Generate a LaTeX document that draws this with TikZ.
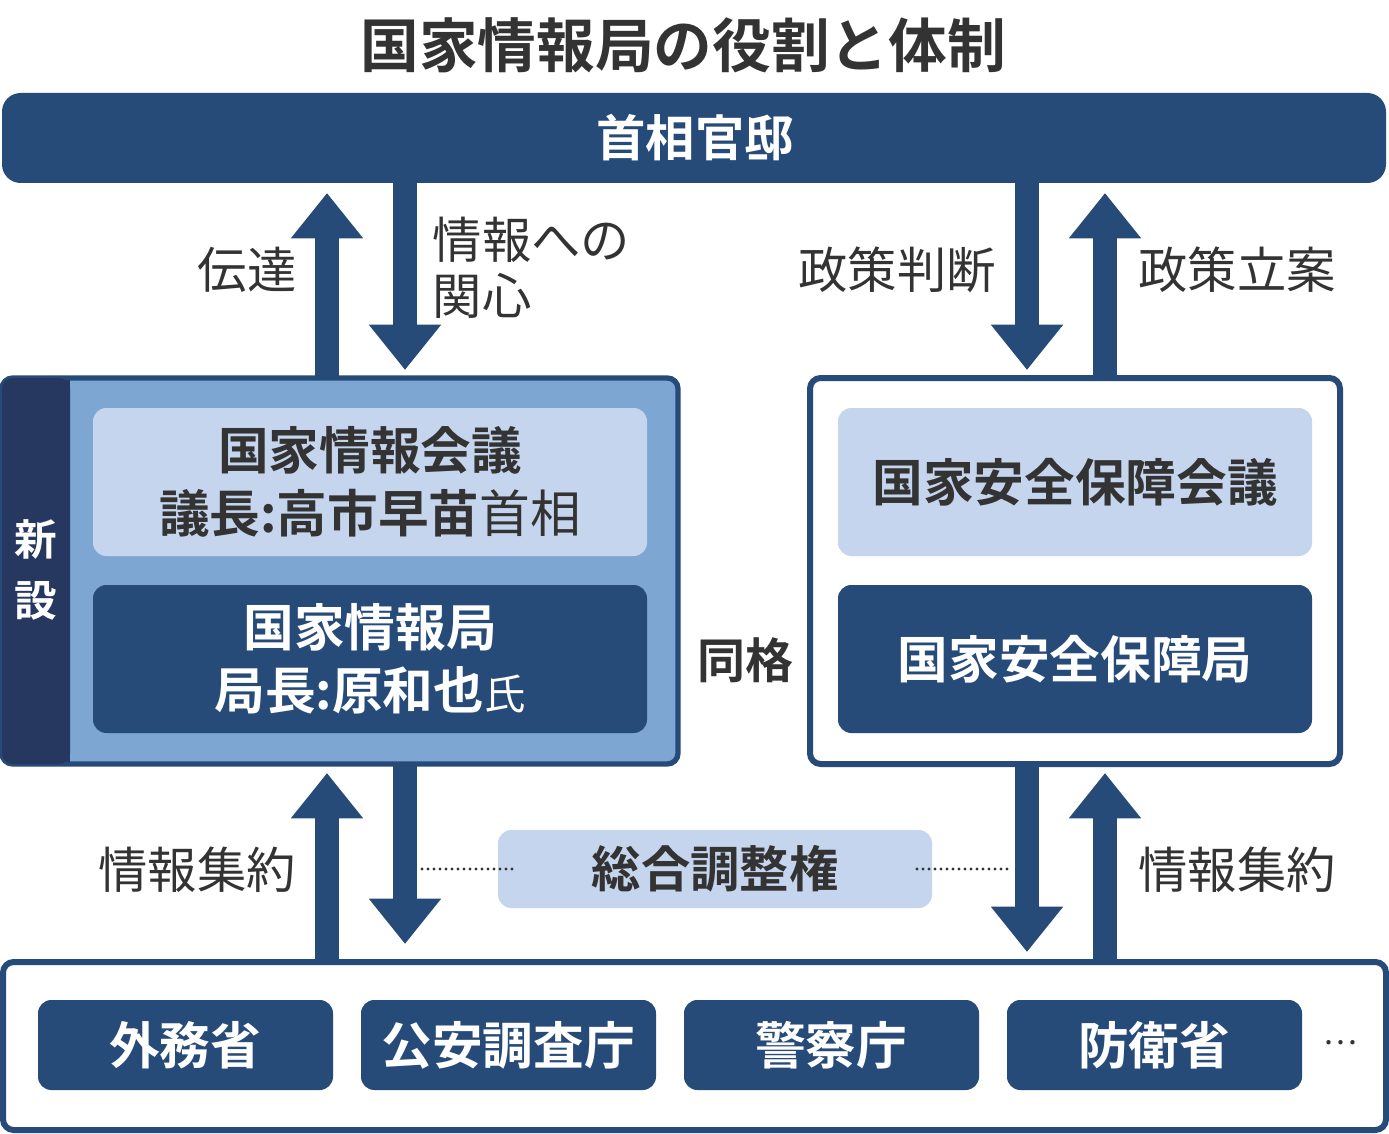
\documentclass[tikz,border=0pt]{standalone}
\usepackage{fontspec}
\setmainfont{Noto Sans CJK JP}[BoldFont={Noto Sans CJK JP Bold}]
\usetikzlibrary{arrows.meta}
\definecolor{navy}{HTML}{274B79}
\definecolor{strip}{HTML}{26385F}
\definecolor{panel}{HTML}{7EA6D2}
\definecolor{pale}{HTML}{C6D5EE}
\definecolor{ink}{HTML}{333333}
\begin{document}
\begin{tikzpicture}[x=0.75pt,y=-0.75pt,
 dk/.style={fill=navy,rounded corners=10pt,text=white,font=\bfseries\fontsize{37}{44}\selectfont},
 lt/.style={fill=pale,rounded corners=10pt,text=ink,font=\bfseries\fontsize{37}{44}\selectfont},
 lab/.style={text=ink,font=\fontsize{37}{42}\selectfont},
 arr/.style={draw=navy,line width=18pt,-{Triangle[width=52pt,length=34pt]}},
 dot/.style={ink,line width=2.5pt,line cap=round,dash pattern=on 0pt off 4.5pt}]
\useasboundingbox (0,0) rectangle (1389,1134);
\node[text=ink,font=\bfseries\fontsize{44}{50}\selectfont] (title) at (683,45) {国家情報局の役割と体制};
\path[fill=navy,rounded corners=14pt] (2,93) rectangle (1386,183);
\node[text=white,font=\bfseries\fontsize{37}{40}\selectfont] (pm) at (695,138) {首相官邸};
% left box
\draw[fill=panel,draw=navy,line width=4pt,rounded corners=8pt] (2,378) rectangle (678,764);
\path[fill=strip,rounded corners=8pt] (2,378) rectangle (70,764);
\path[fill=strip] (40,380) rectangle (70,762);
\node[text=white,font=\bfseries\fontsize{32}{46}\selectfont,align=center] (new) at (36,570) {新\\設};
\path[lt] (93,408) rectangle (647,556);
\node[text=ink,font=\bfseries\fontsize{38}{47}\selectfont,align=center] (kj) at (370,482) {国家情報会議\\議長:高市早苗{\mdseries 首相}};
\path[dk] (93,585) rectangle (647,733);
\node[text=white,font=\bfseries\fontsize{38}{47}\selectfont,align=center] (kb) at (370,659) {国家情報局\\局長:原和也{\mdseries\fontsize{31}{47}\selectfont 氏}};
% right box
\draw[fill=white,draw=navy,line width=4.5pt,rounded corners=8pt] (810,378) rectangle (1340,764);
\path[lt] (838,408) rectangle (1312,556);
\node[text=ink,font=\bfseries\fontsize{38}{44}\selectfont] (nsc) at (1075,482) {国家安全保障会議};
\path[dk] (838,585) rectangle (1312,733);
\node[text=white,font=\bfseries\fontsize{38}{44}\selectfont] (nss) at (1075,659) {国家安全保障局};
\node[text=ink,font=\bfseries\fontsize{36}{44}\selectfont] (eq) at (745,660) {同格};
% upper arrows
\coordinate (a1s) at (327,380); \coordinate (a1e) at (327,193);
\coordinate (a2s) at (405,181); \coordinate (a2e) at (405,370);
\coordinate (a3s) at (1027,181); \coordinate (a3e) at (1027,370);
\coordinate (a4s) at (1105,380); \coordinate (a4e) at (1105,193);
\draw[arr] (a1s) -- (a1e); \draw[arr] (a2s) -- (a2e);
\draw[arr] (a3s) -- (a3e); \draw[arr] (a4s) -- (a4e);
\node[lab] (l1) at (247,270) {伝達};
\node[lab,align=left,anchor=west] (l2) at (428,268) {情報への\\関心};
\node[lab] (l3) at (897,270) {政策判断};
\node[lab] (l4) at (1237,270) {政策立案};
% lower arrows
\coordinate (b1s) at (327,962); \coordinate (b1e) at (327,773);
\coordinate (b2s) at (405,762); \coordinate (b2e) at (405,944);
\coordinate (b3s) at (1027,762); \coordinate (b3e) at (1027,952);
\coordinate (b4s) at (1105,962); \coordinate (b4e) at (1105,773);
\draw[arr] (b1s) -- (b1e); \draw[arr] (b2s) -- (b2e);
\draw[arr] (b3s) -- (b3e); \draw[arr] (b4s) -- (b4e);
\node[lab] (l5) at (197,870) {情報集約};
\node[lab] (l6) at (1237,870) {情報集約};
\path[fill=pale,rounded corners=10pt] (498,830) rectangle (932,908);
\node[text=ink,font=\bfseries\fontsize{37}{44}\selectfont] (sg) at (715,869) {総合調整権};
\coordinate (d1) at (422,869); \coordinate (d2) at (515,869);
\coordinate (d3) at (917,869); \coordinate (d4) at (1008,869);
\draw[dot] (d1) -- (d2);
\draw[dot] (d3) -- (d4);
% bottom
\draw[fill=white,draw=navy,line width=4.5pt,rounded corners=8pt] (3,962) rectangle (1386,1130);
\path[dk] (38,1000) rectangle (333,1090);
\path[dk] (361,1000) rectangle (656,1090);
\path[dk] (684,1000) rectangle (979,1090);
\path[dk] (1007,1000) rectangle (1302,1090);
\node[text=white,font=\bfseries\fontsize{38}{44}\selectfont] (m1) at (185,1045) {外務省};
\node[text=white,font=\bfseries\fontsize{38}{44}\selectfont] (m2) at (508,1045) {公安調査庁};
\node[text=white,font=\bfseries\fontsize{38}{44}\selectfont] (m3) at (831,1045) {警察庁};
\node[text=white,font=\bfseries\fontsize{38}{44}\selectfont] (m4) at (1154,1045) {防衛省};
\node[text=ink,font=\fontsize{24}{30}\selectfont] (dots) at (1340,1043) {…};
\end{tikzpicture}
\end{document}
